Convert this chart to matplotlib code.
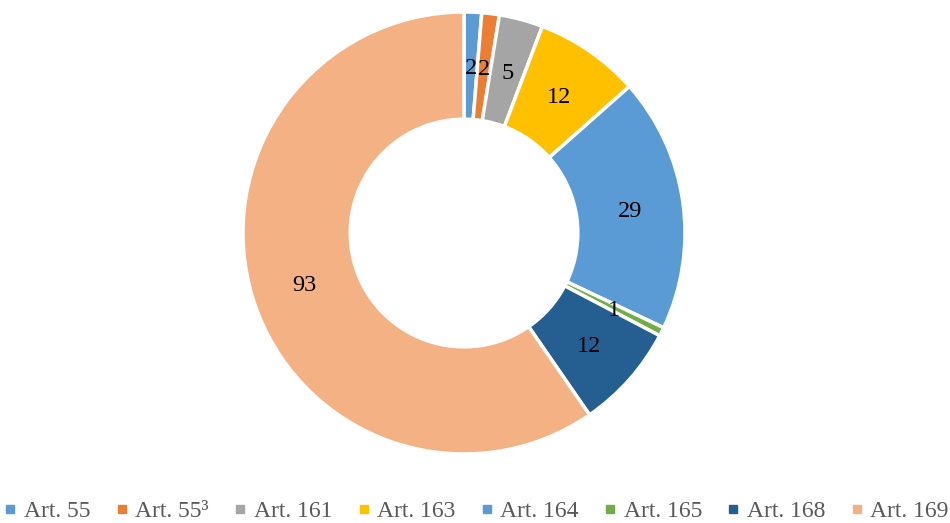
import numpy as np
import matplotlib.pyplot as plt
from matplotlib.lines import Line2D

# counts per article
articles = ["Art. 55", "Art. 55³", "Art. 161", "Art. 163",
            "Art. 164", "Art. 165", "Art. 168", "Art. 169"]
counts = [2, 2, 5, 12, 29, 1, 12, 93]
colors = ["#5B9BD5", "#ED7D31", "#A5A5A5", "#FFC000",
          "#5B9BD5", "#70AD47", "#255E91", "#F4B183"]

plt.rcParams['font.family'] = ['Liberation Serif', 'DejaVu Serif']

W, H = 950, 523
fig = plt.figure(figsize=(W / 100, H / 100), dpi=100)

# donut centred at (464, 233) px, outer radius 221 px
cx, cy, R = 464, 233, 221
ax = fig.add_axes([(cx - R) / W, (H - cy - R) / H, 2 * R / W, 2 * R / H])

ring = 0.485
wedges, _ = ax.pie(counts, colors=colors, startangle=90, counterclock=False,
                   radius=1.0,
                   wedgeprops=dict(width=ring, edgecolor='white', linewidth=2.5))
ax.set_xlim(-1, 1)
ax.set_ylim(-1, 1)
ax.set_aspect('equal')
ax.axis('off')

# value labels sit in the middle of the ring
mid_r = 1.0 - ring / 2
for w, v in zip(wedges, counts):
    ang = np.deg2rad((w.theta1 + w.theta2) / 2)
    ax.text(mid_r * np.cos(ang), mid_r * np.sin(ang), str(v),
            ha='center', va='center_baseline', fontsize=17.5, color='black')

handles = [Line2D([0], [0], marker='s', linestyle='none', markersize=5.5,
                  markerfacecolor=c, markeredgecolor=c) for c in colors]
fig.legend(handles, articles, loc='center', bbox_to_anchor=(0.502, 1 - 511 / H),
           ncol=8, frameon=False, fontsize=17, handlelength=0.45,
           handletextpad=0.35, columnspacing=1.1, labelcolor='#595959',
           borderpad=0, borderaxespad=0)

fig.savefig("out.png", dpi=100)
